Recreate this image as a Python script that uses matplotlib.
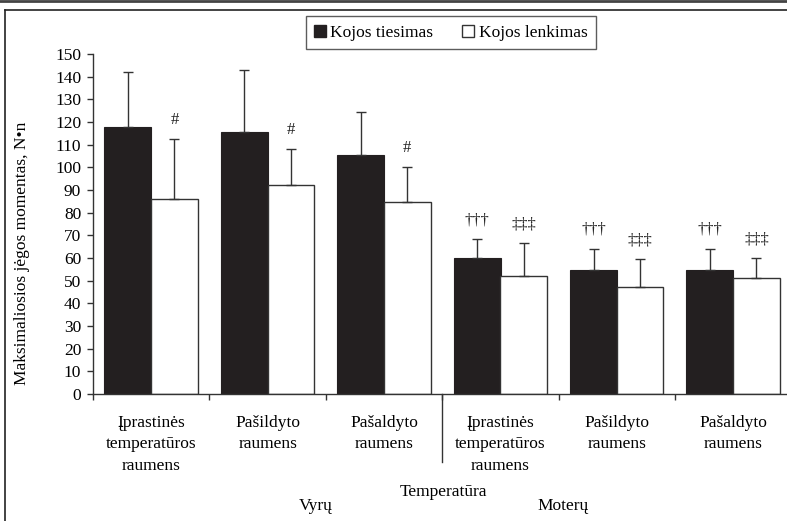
import numpy as np
import matplotlib
matplotlib.use("Agg")
import matplotlib.pyplot as plt
from matplotlib.lines import Line2D

plt.rcParams['font.family'] = ['Liberation Serif', 'Tinos', 'DejaVu Serif']

# data
categories = ["Įprastinės\ntemperatūros\nraumens", "Pašildyto\nraumens", "Pašaldyto\nraumens",
              "Įprastinės\ntemperatūros\nraumens", "Pašildyto\nraumens", "Pašaldyto\nraumens"]
tiesimas = [118, 115.5, 105.5, 59.8, 54.5, 54.5]
tiesimas_err = [24, 27.5, 19, 8.5, 9.5, 9.5]
lenkimas = [86, 92, 84.5, 52, 47, 51.3]
lenkimas_err = [26.5, 16, 15.5, 14.5, 12.5, 8.5]
tiesimas_marks = ["", "", "", "†††", "†††", "†††"]
lenkimas_marks = ["#", "#", "#", "‡‡‡", "‡‡‡", "‡‡‡"]
legend_labels = ["Kojos tiesimas", "Kojos lenkimas"]
y_ticks = list(range(0, 151, 10))

W, H = 787, 521
fs = 12.5
fig = plt.figure(figsize=(W / 100, H / 100), dpi=100)
ax = fig.add_axes([93 / W, 1 - 394 / H, 698.4 / W, 340 / H])

dark = "#231f20"
edge = "#333333"
x = np.arange(len(categories))
ekw = dict(ecolor=edge, elinewidth=1.0, capsize=3.6, capthick=1.0)
ax.bar(x + 0.3, tiesimas, width=0.405, color=dark, edgecolor=dark, linewidth=0.8,
       yerr=[np.zeros(len(x)), tiesimas_err], error_kw=ekw, zorder=2)
ax.bar(x + 0.7, lenkimas, width=0.40, color="white", edgecolor=edge, linewidth=1.0,
       yerr=[np.zeros(len(x)), lenkimas_err], error_kw=ekw, zorder=2)

# significance marks above the error bars
for i in range(len(x)):
    if tiesimas_marks[i]:
        ax.annotate(tiesimas_marks[i], (x[i] + 0.3, tiesimas[i] + tiesimas_err[i]),
                    xytext=(0, 8), textcoords="offset points", ha="center", va="bottom",
                    fontsize=12, color="#222222")
    if lenkimas_marks[i]:
        ax.annotate(lenkimas_marks[i], (x[i] + 0.7, lenkimas[i] + lenkimas_err[i]),
                    xytext=(0, 8), textcoords="offset points", ha="center", va="bottom",
                    fontsize=12, color="#222222")

ax.set_xlim(0, len(categories))
ax.set_ylim(0, 150)
ax.set_yticks(y_ticks)
ax.tick_params(axis="y", direction="out", length=4.5, width=1, color=edge, pad=4, labelsize=fs)

ax.set_xticks(x)
ax.set_xticklabels([])
ax.set_xticks(x + 0.5, minor=True)
ax.set_xticklabels(categories, minor=True, fontsize=fs, linespacing=1.45)
ax.tick_params(axis="x", which="major", direction="out", length=4, width=1, color=edge)
ax.tick_params(axis="x", which="minor", length=0, pad=15)

# long separator tick between the two groups
ax.plot([3, 3], [0, -0.2], transform=ax.get_xaxis_transform(), color=edge, lw=1, clip_on=False)

for s in ["top", "right"]:
    ax.spines[s].set_visible(False)
for s in ["left", "bottom"]:
    ax.spines[s].set_color(edge)
    ax.spines[s].set_linewidth(1)

fig.text(22 / W, 1 - 253 / H, "Maksimaliosios jėgos momentas, N•n", rotation=90,
         ha="center", va="center", fontsize=fs)
fig.text(443 / W, 1 - 492 / H, "Temperatūra", ha="center", va="center", fontsize=fs)
fig.text(316 / W, 1 - 506 / H, "Vyrų", ha="center", va="center", fontsize=fs)
fig.text(563 / W, 1 - 506 / H, "Moterų", ha="center", va="center", fontsize=fs)

handles = [Line2D([], [], marker="s", ls="none", markersize=8, markerfacecolor=dark, markeredgecolor=dark),
           Line2D([], [], marker="s", ls="none", markersize=8, markerfacecolor="white", markeredgecolor=edge)]
leg = fig.legend(handles, legend_labels, ncol=2, loc="center", bbox_to_anchor=(451 / W, 1 - 32.5 / H),
                 fontsize=fs, frameon=True, fancybox=False, handlelength=0.6, handletextpad=0.3,
                 columnspacing=1.7, borderpad=0.5)
leg.get_frame().set_edgecolor(edge)
leg.get_frame().set_linewidth(1)

# outer frame of the cropped picture
fig.add_artist(Line2D([0, 1], [1 - 1 / H, 1 - 1 / H], color="#444444", lw=2, transform=fig.transFigure))
fig.add_artist(Line2D([5 / W, 1], [1 - 10 / H, 1 - 10 / H], color="#222222", lw=1.2, transform=fig.transFigure))
fig.add_artist(Line2D([5 / W, 5 / W], [0, 1 - 10 / H], color="#222222", lw=1.2, transform=fig.transFigure))

fig.savefig("out.png", dpi=100)
